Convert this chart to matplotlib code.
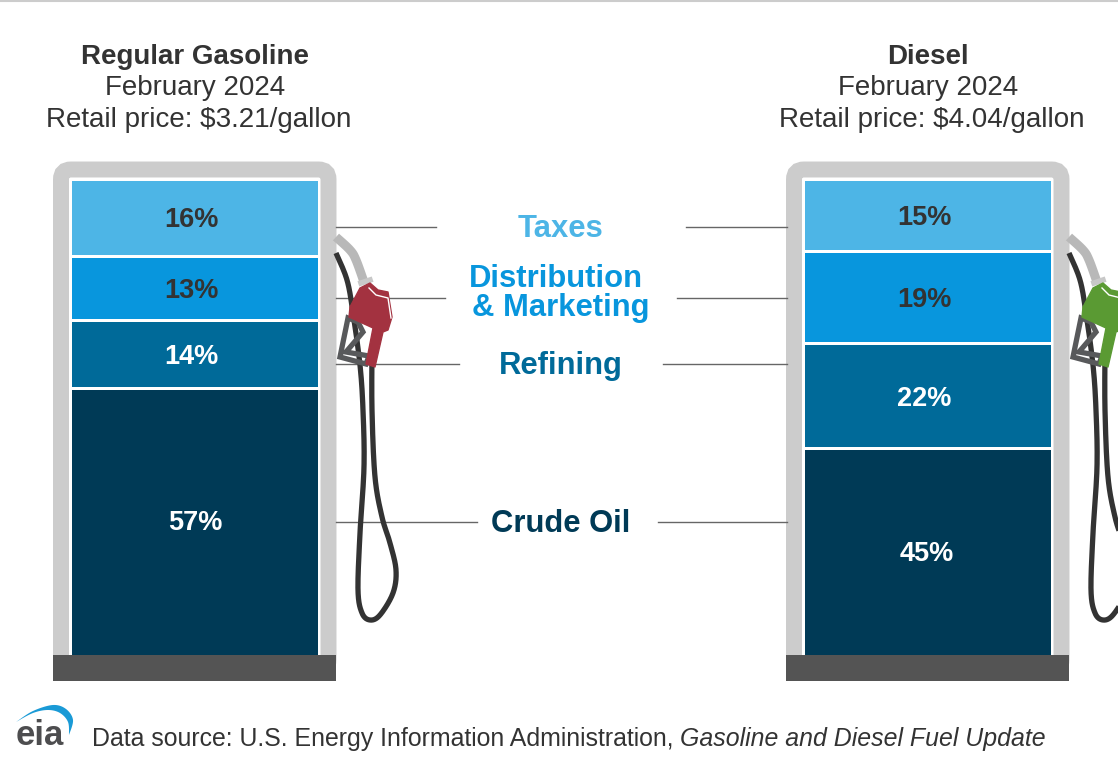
import numpy as np
from matplotlib import pyplot as plt
from matplotlib.patches import FancyBboxPatch, Polygon, Rectangle

plt.rcParams['font.family'] = ['Liberation Sans', 'DejaVu Sans']

# shares of the retail price, crude oil at the bottom
components = ["Crude Oil", "Refining", "Distribution", "& Marketing", "Taxes"]
component_colors = ["#003a56", "#006a99", "#0896dd", "#0896dd", "#4db5e6"]
# printed labels, and the segment lengths as measured (they don't follow the rounded labels exactly)
gasoline_labels = [57, 14, 13, 16]
gasoline = [56.0, 14.3, 13.5, 16.2]
diesel_labels = [45, 22, 19, 15]
diesel = [43.2, 22.2, 19.4, 15.2]
gas_title = ["Regular Gasoline", "February 2024", "Retail price: $3.21/gallon"]
diesel_title = ["Diesel", "February 2024", "Retail price: $4.04/gallon"]
colors = ["#003a56", "#006a99", "#0896dd", "#4db5e6"]
text_colors = ["white", "white", "#333333", "#333333"]
DARK = "#333333"

fig = plt.figure(figsize=(11.18, 7.58), dpi=100)
ax = fig.add_axes([0, 0, 1, 1])
# axes are in image pixels, y going down
ax.set_xlim(0, 1118)
ax.set_ylim(758, 0)
ax.axis('off')
ax.plot([0, 1118], [0.5, 0.5], color="#cccccc", lw=1.5)


def smooth(pts, n=20):
    # catmull-rom through the given points
    p = np.array(pts, dtype=float)
    p = np.vstack([p[0], p, p[-1]])
    out = []
    for i in range(1, len(p) - 2):
        for t in np.linspace(0, 1, n, endpoint=False):
            out.append(0.5 * (2 * p[i] + (p[i + 1] - p[i - 1]) * t
                              + (2 * p[i - 1] - 5 * p[i] + 4 * p[i + 1] - p[i + 2]) * t ** 2
                              + (3 * p[i] - p[i - 1] - 3 * p[i + 1] + p[i + 2]) * t ** 3))
    out.append(p[-2])
    return np.array(out)


def draw_hose(dx, nozzle_color):
    hose = [(336, 253), (347, 280), (353, 313), (360, 365), (363, 410), (364, 467), (360, 533),
            (358, 590), (362, 613), (370, 620), (380, 615), (393, 593), (396, 570), (390, 543),
            (382, 517), (375, 477), (372, 410), (372, 350)]
    h = smooth(hose)
    ax.plot(h[:, 0] + dx, h[:, 1], color=DARK, lw=3.8, zorder=4, solid_capstyle='butt')
    neck = smooth([(336, 237), (350, 250), (356, 260), (364, 282)])
    ax.plot(neck[:, 0] + dx, neck[:, 1], color="#b8b8b8", lw=6.5, zorder=4, solid_capstyle='butt')
    ax.plot(np.array([361, 370]) + dx, [283, 280], color="#c8c8c8", lw=4, zorder=5)
    guard = np.array([(348, 318), (340, 357), (366, 364), (369, 356), (346, 352), (363, 332), (358, 322)])
    ax.add_patch(Polygon(guard + [dx, 0], closed=True, fill=False, ec="#58595b", lw=3.8, zorder=5))
    body = np.array([(360, 288), (370, 283), (378, 290), (388, 292), (392, 317), (388, 330), (383, 332),
                     (375, 367), (366, 364), (373, 328), (349, 317), (350, 307)])
    ax.add_patch(Polygon(body + [dx, 0], closed=True, fc=nozzle_color, ec=nozzle_color, lw=1, zorder=6,
                         joinstyle='round'))
    ax.plot(np.array([369, 376, 388, 391]) + dx, [288, 295, 298, 318], color="white", lw=1, zorder=7)


def draw_pump(x0, values, labels, title, label_x, nozzle_color):
    # housing
    ax.add_patch(FancyBboxPatch((x0 + 8, 169.5), 267.5, 500, boxstyle="round,pad=0,rounding_size=10",
                                fc="white", ec="#cccccc", lw=11.5, zorder=1))
    ax.add_patch(Rectangle((x0, 655), 283, 26, fc="#545454", ec="none", zorder=2))
    ax.add_patch(Rectangle((x0 - 10, 681), 303, 30, fc="white", ec="none", zorder=1.5))
    # segments stacked up from the pump base
    scale = 474 / 100.0
    bottom = 655.0
    for v, lab, c, tc, lx in zip(values, labels, colors, text_colors, label_x):
        h = v * scale
        gap = 3 if bottom < 655 else 0
        ax.bar(x0 + 142, -(h - gap), width=246, bottom=bottom - gap, color=c, zorder=3)
        ax.text(lx, bottom - h / 2 + 1, "%d%%" % lab, color=tc, fontsize=19.5, fontweight='bold',
                ha='center', va='center', zorder=8)
        bottom -= h
    # title, price line sits a little right of the other two
    cx = x0 + 142
    ax.text(cx, 57, title[0], fontsize=20, fontweight='bold', color=DARK, ha='center', va='center')
    ax.text(cx, 88, title[1], fontsize=20, color=DARK, ha='center', va='center')
    ax.text(cx + 4, 120, title[2], fontsize=20, color=DARK, ha='center', va='center')
    draw_hose(x0 - 53, nozzle_color)


draw_pump(53, gasoline, gasoline_labels, gas_title, [195, 191, 191, 191], "#a33240")
draw_pump(786, diesel, diesel_labels, diesel_title, [927, 924, 924, 924], "#5a9a33")

# leader lines and the labels between the pumps
left_ends = [477, 459, 445, 436]
right_starts = [658, 663, 677, 686]
line_y = [522, 364, 298, 227]
label_x = [561, 561, 556, 561, 561]
label_y = [524, 366, 279, 308, 229]
for xl, xr, y in zip(left_ends, right_starts, line_y):
    ax.plot([336, xl], [y, y], color="#666666", lw=1, zorder=2)
    ax.plot([xr, 787], [y, y], color="#666666", lw=1, zorder=2)
for name, c, x, y in zip(components, component_colors, label_x, label_y):
    ax.text(x, y, name, color=c, fontsize=22.3, fontweight='bold', ha='center', va='center', zorder=8)

# eia logo
swoosh = np.vstack([smooth([(16, 722), (33, 711), (53, 705), (66, 709), (73, 720), (69, 735)]),
                    smooth([(69, 735), (68, 722), (60, 713), (48, 710), (33, 713), (16, 722)])])
ax.add_patch(Polygon(swoosh, closed=True, fc="#1a9ad6", ec="none", zorder=3))
ax.text(40, 745, "eia", fontsize=25, fontweight='bold', color="#4d4d4f", ha='center', va='baseline')

# footer, italic part hooked on the end of the plain part
src = ax.text(92, 739, "Data source: U.S. Energy Information Administration, ", fontsize=17.9, color=DARK,
              ha='left', va='center')
ax.annotate("Gasoline and Diesel Fuel Update", xy=(1, 0), xycoords=src, fontsize=17.9, color=DARK,
            style='italic', ha='left', va='bottom')

fig.savefig("out.png", dpi=100)
